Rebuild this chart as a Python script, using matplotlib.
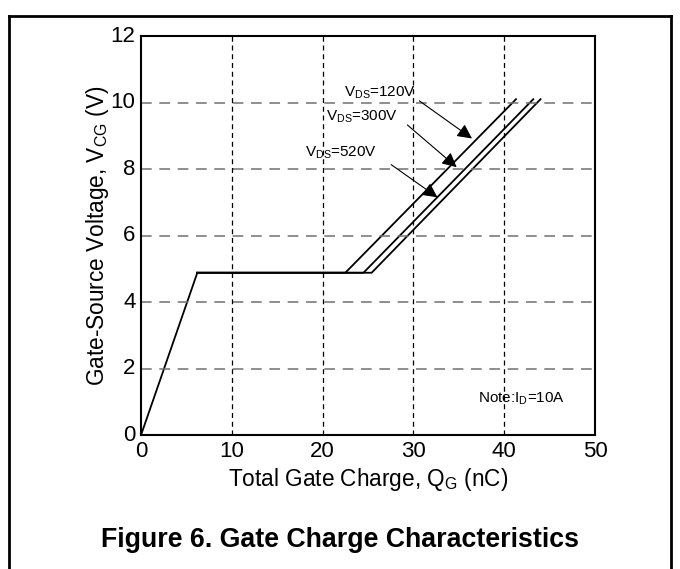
import matplotlib
matplotlib.use('Agg')
import matplotlib.pyplot as plt
from matplotlib.lines import Line2D

plt.rcParams['font.family'] = ['Liberation Sans', 'DejaVu Sans']

# gate charge curves (nC, V)
qg_rise = [0, 6.2]
vgs_rise = [0, 4.88]
plateau_start = 6.2
plateau_v = 4.88
vds_labels = ['120V', '300V', '520V']
plateau_end = [22.5, 24.5, 25.4]
curve_end = [41.3, 43.2, 44.0]
end_v = 10.1

# label positions and arrow tails/heads
label_xy = [(22.4, 10.3), (20.4, 9.56), (18.1, 8.5)]
arrow_tail = [(30.4, 10.1), (29.1, 9.38), (27.3, 8.18)]
arrow_head = [(36.7, 8.87), (35.0, 8.0), (32.9, 7.1)]

fig = plt.figure(figsize=(6.8, 5.69), dpi=100)
ax = fig.add_axes([0.2074, 0.2355, 0.6676, 0.7012])

ax.plot(qg_rise, vgs_rise, color='black', lw=1.3)
for pe, ce in zip(plateau_end, curve_end):
    ax.plot([plateau_start, pe, ce], [plateau_v, plateau_v, end_v], color='black', lw=1.3)

for lab, (tx, ty), tail, head in zip(vds_labels, label_xy, arrow_tail, arrow_head):
    ax.text(tx, ty, r'V$_{\mathregular{DS}}$=' + lab, fontsize=11, va='center', ha='left')
    ax.annotate('', xy=head, xytext=tail,
                arrowprops=dict(arrowstyle='-|>', color='black', lw=0.8, mutation_scale=22))

ax.text(37.1, 1.1, r'Note:I$_{\mathregular{D}}$=10A', fontsize=11, va='center', ha='left')

ax.set_xlim(0, 50)
ax.set_ylim(0, 12)
ax.set_xticks(range(0, 51, 10))
ax.set_yticks(range(0, 13, 2))
ax.tick_params(length=0, labelsize=16, pad=4)
for lbl in ax.get_yticklabels():
    lbl.set_verticalalignment('center')

for y in range(2, 12, 2):
    ax.axhline(y, color='#707070', lw=1.1, dashes=(7, 5))
for x in range(10, 50, 10):
    ax.axvline(x, color='black', lw=0.9, dashes=(4, 3))

for s in ax.spines.values():
    s.set_linewidth(1.5)

ax.set_xlabel(r'Total Gate Charge, Q$_{\mathregular{G}}$ (nC)', fontsize=16.3, labelpad=3)
ax.set_ylabel(r'Gate-Source Voltage, V$_{\mathregular{CG}}$ (V)', fontsize=16.3, labelpad=0)

fig.text(0.5, 0.051, 'Figure 6. Gate Charge Characteristics', fontsize=19.3,
         fontweight='bold', ha='center', va='center')

# page border
for xs, ys in [([0.013, 0.013], [0, 0.972]), ([0.987, 0.987], [0, 0.972]), ([0.013, 0.987], [0.972, 0.972])]:
    fig.add_artist(Line2D(xs, ys, color='black', lw=2))

fig.savefig('out.png', dpi=100)
